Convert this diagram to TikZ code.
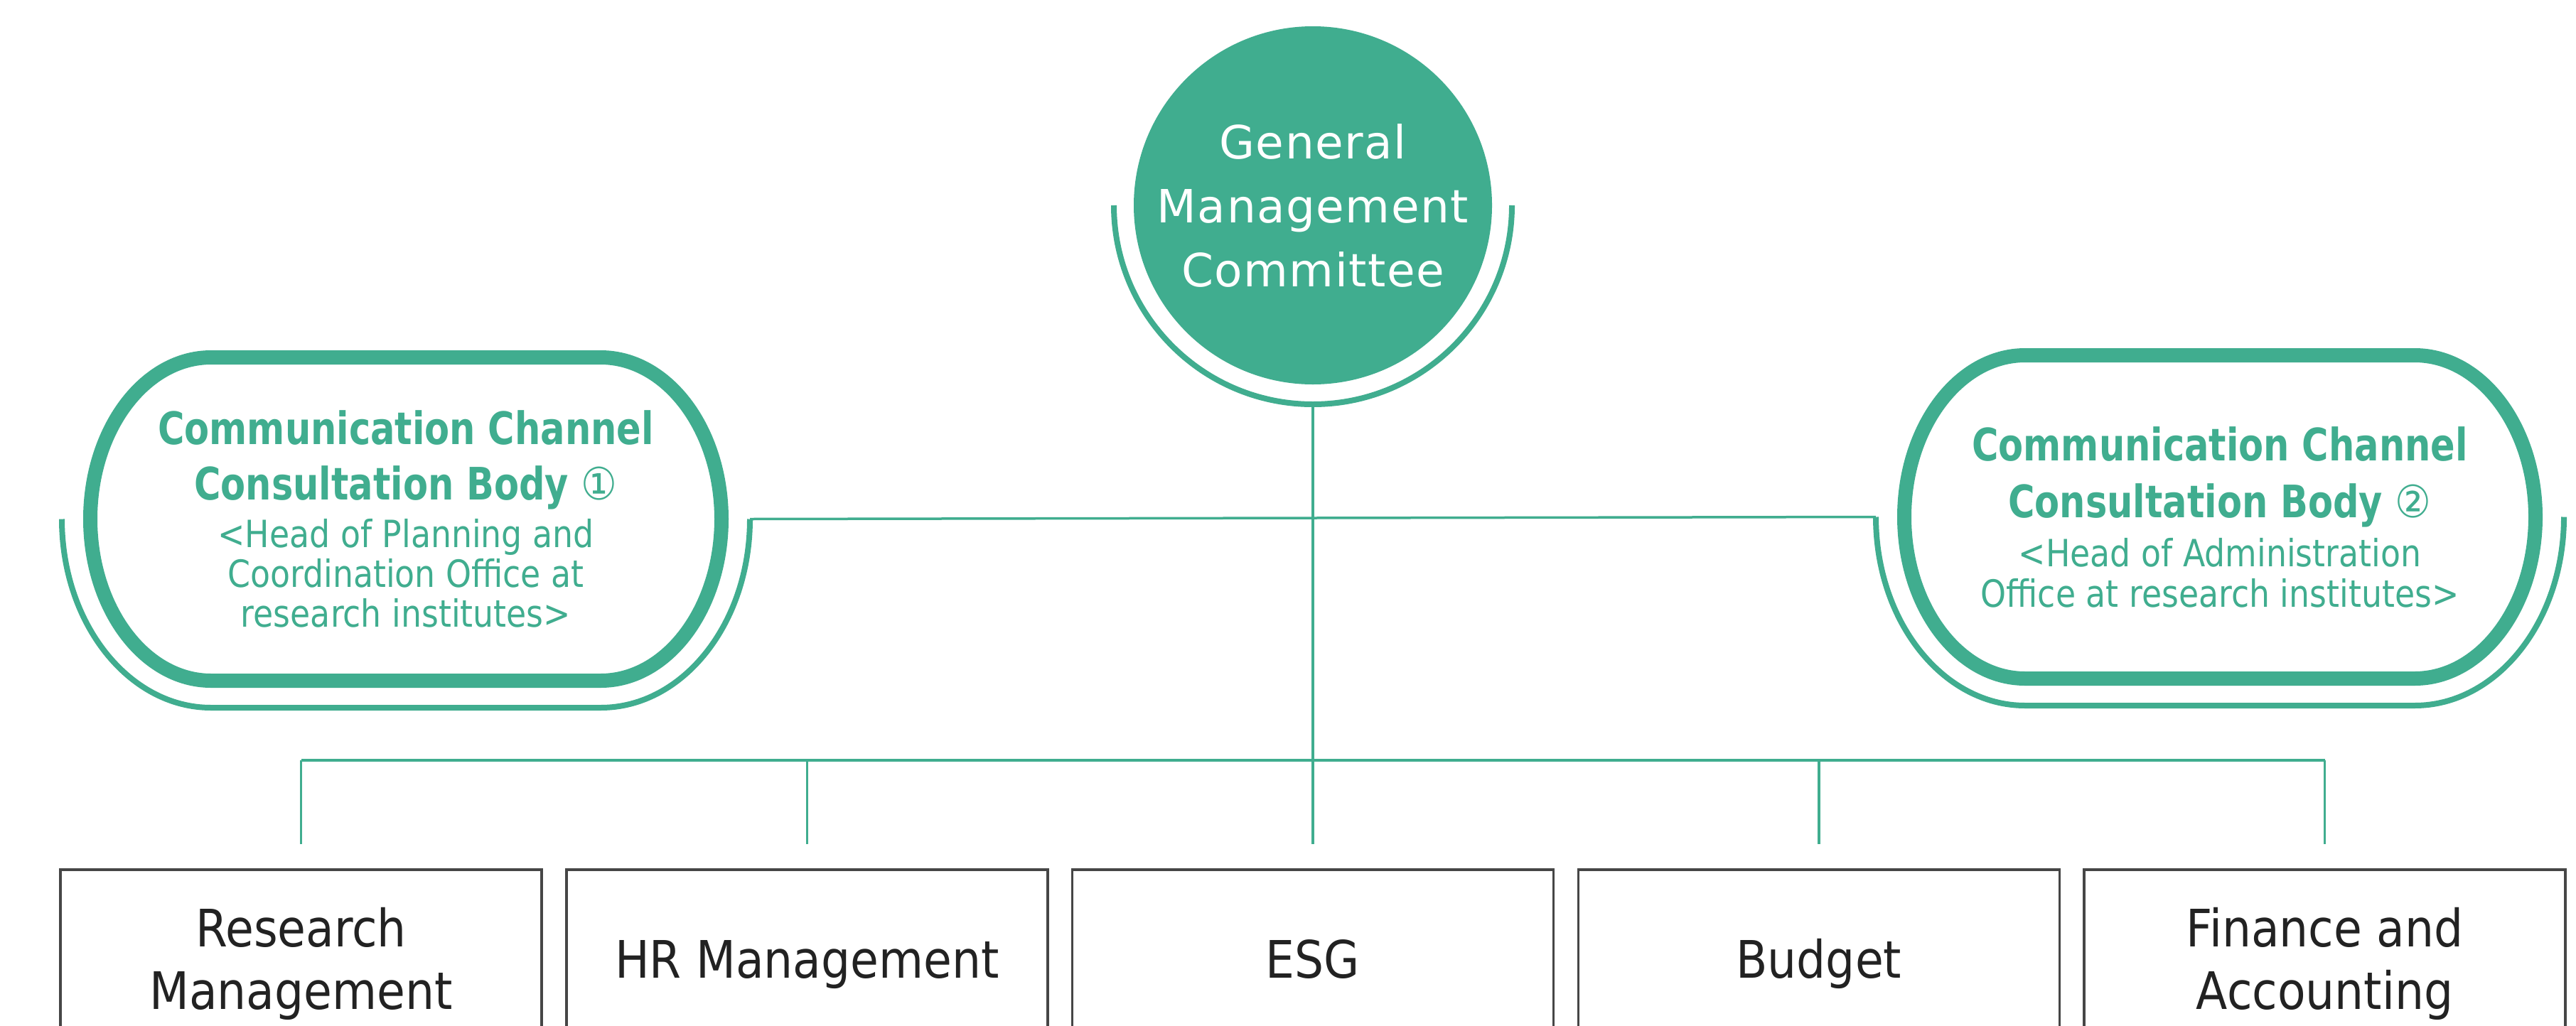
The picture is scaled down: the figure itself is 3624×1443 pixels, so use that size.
\documentclass[tikz,border=0pt]{standalone}
\usepackage{fontspec}
\setmainfont{DejaVu Sans}
\newfontfamily\gmcfont{DejaVu Sans}[LetterSpace=2.3]
\newfontfamily\boxfont{DejaVu Sans}[FakeStretch=0.89]
\newfontfamily\titlefont{DejaVu Sans Bold}[FakeStretch=0.81]
\newfontfamily\subfont{DejaVu Sans}[FakeStretch=0.867]
\newfontfamily\circfont{DejaVu Sans}[FakeStretch=0.9]
\newcommand\rigidspaces{\spaceskip=\fontdimen2\font\relax\xspaceskip=\fontdimen2\font\relax}
\usetikzlibrary{calc}
\definecolor{gmteal}{RGB}{64,173,143}
\definecolor{boxline}{RGB}{70,70,70}
\definecolor{boxtext}{RGB}{34,34,34}
\begin{document}
\begin{tikzpicture}[x=1pt,y=-1pt,
  conn/.style={draw=gmteal, line width=3.5pt},
  ring/.style={draw=gmteal, line width=8pt},
  pillborder/.style={draw=gmteal, line width=20pt},
  unit/.style={draw=boxline, line width=3.5pt, minimum width=677pt, minimum height=266pt,
    inner sep=0pt, align=center, text=boxtext, anchor=north,
    font=\boxfont\fontsize{72.7pt}{88pt}\selectfont},
  gmcnode/.style={circle, fill=gmteal, minimum size=504pt, inner sep=0pt, text=white,
    align=center, font=\gmcfont\fontsize{64.5pt}{90pt}\selectfont},
  pilltext/.style={inner sep=0pt, text width=880pt, align=center, text=gmteal},
]
\useasboundingbox (0,0) rectangle (3624,1443);
\clip (0,0) rectangle (3624,1443);
\fill[white] (0,0) rectangle (3624,1443);

% top committee
\node[gmcnode] (gmc) at (1847,289) {General\\Management\\Committee};
\draw[ring] ($(gmc.center)+(-280,0)$) arc[start angle=180, end angle=0, radius=280];
\coordinate (ringbot) at ($(gmc.center)+(0,280)$);

% consultation bodies
\node[pilltext] (cc1) at (571,730.5) {%
  {\titlefont\fontsize{63pt}{78pt}\selectfont\rigidspaces Communication Channel\\ Consultation Body {\circfont ①}\par}%
  \vskip 11pt
  {\subfont\fontsize{52.8pt}{56pt}\selectfont\rigidspaces <Head of Planning and\\ Coordination Office at\\ research institutes>\par}};
\node[pilltext] (cc2) at (3123,727.5) {%
  {\titlefont\fontsize{63pt}{80pt}\selectfont\rigidspaces Communication Channel\\ Consultation Body {\circfont ②}\par}%
  \vskip 12pt
  {\subfont\fontsize{52.8pt}{57pt}\selectfont\rigidspaces <Head of Administration\\ Office at research institutes>\par}};

\foreach \p in {cc1,cc2}{
  \draw[pillborder] ($(\p.center)+(-274,-227.5)$) -- ++(548,0)
    arc[start angle=270, end angle=450, x radius=170, y radius=227.5] -- ++(-548,0)
    arc[start angle=90, end angle=270, x radius=170, y radius=227.5] -- cycle;
  \draw[ring] ($(\p.center)+(-484,0)$)
    arc[start angle=180, end angle=90, x radius=210, y radius=265.5] -- ++(548,0)
    arc[start angle=90, end angle=0, x radius=210, y radius=265.5];
}
\coordinate (u1r) at ($(cc1.center)+(484,0)$);
\coordinate (u2l) at ($(cc2.center)+(-484,0)$);
\draw[conn] (u1r) -- (u2l);

% units
\node[unit] (b1) at (423.5,1222) {Research\\Management};
\node[unit] (b2) at (1135.25,1222) {HR Management\vphantom{dg}};
\node[unit] (b3) at (1847,1222) {ESG\vphantom{dg}};
\node[unit] (b4) at (2558.75,1222) {Budget};
\node[unit] (b5) at (3270.5,1222) {Finance and\\Accounting};

\foreach \b in {b1,b2,b3,b4,b5}{
  \coordinate (\b bus) at ($(\b.north)+(0,-152)$);
  \coordinate (\b drop) at ($(\b.north)+(0,-34)$);
}
\draw[conn] (ringbot) -- (b3drop);
\draw[conn] (b1bus) -- (b5bus);
\foreach \b in {b1,b2,b4,b5}{
  \draw[conn] (\b bus) -- (\b drop);
}
\end{tikzpicture}
\end{document}
